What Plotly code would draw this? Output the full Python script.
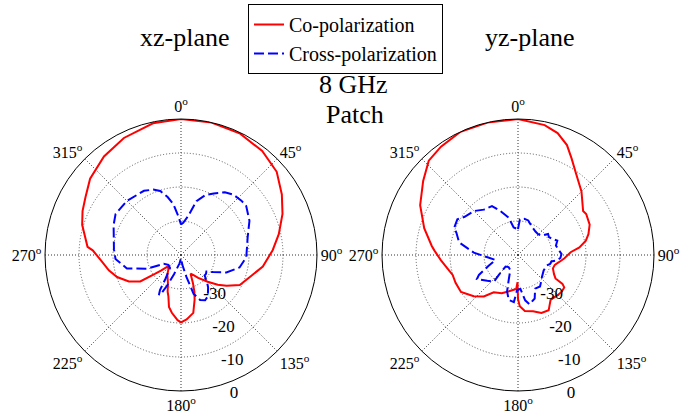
import plotly.graph_objects as go

# xz-plane, co-polarization (angle in degrees, normalized gain in dB)
xz_co_theta = [0, 13, 26, 38, 49, 59, 68, 78, 87, 98, 108, 117, 124, 129, 135, 143, 148, 153,
               157, 160, 163, 168, 175, 180, 183, 189, 193, 197, 200, 205, 215, 228, 232, 234,
               237, 243, 251, 258, 266.5, 273, 275, 287, 294, 301, 310, 322, 334, 348, 360]
xz_co_db = [0, 0, -0.3, -1.2, -2.7, -5.4, -7.8, -10.6, -13, -15.7, -18.8, -20.6, -23.8, -26.1,
            -28.9, -31.6, -33, -33.8, -31, -28.5, -26.3, -22.6, -21, -20.2, -20.8, -22.8, -24.3,
            -27.3, -28.5, -30.9, -33, -35.3, -32.5, -30.5, -25.7, -22.8, -20.1, -18.3, -16.3, -14,
            -12.4, -9.6, -8.3, -7.2, -5.1, -3.2, -1.7, -0.4, 0]

# xz-plane, cross-polarization
xz_cx_theta = [0, 4, 10.6, 16, 22, 28, 35, 41, 48, 53, 63.5, 75, 84, 92, 102, 111, 118, 123, 127,
               131, 136, 140, 147, 152, 157, 162, 166, 172, 180, 190, 200, 204, 207, 209, 211, 213,
               220, 232, 243, 248, 256, 266.5, 275, 282, 294, 302, 315, 330, 337, 342, 347, 351.5,
               356, 360]
xz_cx_db = [-31, -30.5, -28.3, -23.5, -21, -19.5, -17.5, -16.5, -16.1, -16, -17.5, -19.7, -20.5,
            -20.8, -22.4, -25.7, -29.3, -31.1, -30.8, -30.8, -29, -27.6, -25.5, -24.9, -25.6, -28,
            -33.3, -37, -39, -37.5, -34, -30.5, -27.5, -26.6, -28, -31.5, -35, -35.3, -34.3, -29.2,
            -23.6, -20.7, -20.2, -19.8, -18.3, -17.3, -17.5, -18.2, -19.1, -20.2, -22.5, -24.9,
            -28.5, -31]

# yz-plane, co-polarization
yz_co_theta = [0, 11.6, 18, 24, 29, 35, 45, 56, 59, 67, 73.5, 78, 83, 87, 94, 100, 105, 111, 118,
               122, 123, 125, 130, 135, 144, 151, 158, 165, 173, 178, 180, 181, 183, 187, 194, 203,
               213, 219.5, 227, 237, 246, 253, 259, 266, 273, 276, 286, 297, 308, 316.6, 324.6, 335,
               347, 360]
yz_co_db = [0, -1, -2.3, -4.6, -7.5, -10.4, -13.6, -16.9, -16.6, -17.1, -18.4, -19.6, -21.8, -24.5,
            -26.3, -27.8, -28.8, -29, -28, -27, -24.4, -23.4, -23.2, -23.4, -23.7, -21.4, -21.6,
            -22.9, -23.4, -24.9, -27, -32, -30, -29.7, -29, -27.8, -26.9, -24.2, -22.2, -20, -19.9,
            -19.9, -18.9, -17.3, -15.4, -14.5, -11.3, -7.7, -4.6, -1.8, -0.9, 0, 0, 0]

# yz-plane, cross-polarization
yz_cx_theta = [0, 3, 10, 16.5, 25, 36.7, 44, 50.7, 55, 60, 65.6, 70, 76, 81.5, 88.7, 94, 98, 101,
               105.5, 110, 121, 133, 140, 145, 153, 159, 166.8, 171, 176, 181.6, 185, 191.6, 196.7,
               200.5, 207, 218, 227, 224, 222, 230, 239.6, 243, 250, 257.6, 265.7, 273, 282, 290,
               293, 300.5, 305.6, 315, 323, 332, 338, 346, 351, 360]
yz_cx_db = [-32.4, -29.5, -29.2, -29.4, -30.6, -31.4, -31.5, -31, -29.2, -29.5, -28.7, -27.7,
            -28.5, -28.1, -27.2, -27.5, -28.5, -30, -30.2, -31, -31.2, -30.4, -29.5, -28.7, -28.9,
            -26.3, -25.1, -26.5, -30, -29.6, -26.1, -26.5, -28.8, -32.2, -35, -35.5, -35, -31.9,
            -29.5, -28.2, -26, -27.1, -30.9, -33.2, -31, -27, -22.3, -20.7, -19.6, -19.3, -20.7,
            -21.7, -23.3, -23.7, -26, -28.7, -31.8, -32.4]

angle_ticks = [0, 45, 90, 135, 180, 225, 270, 315]
angle_labels = [f"{a}<sup>o</sup>" for a in angle_ticks]
ring_ticks = [-30, -20, -10, 0]
ring_labels = ["-30", "-20", "-10", "0"]

FONT = "Liberation Serif"
RED = "#ff0000"
BLUE = "#0000ff"

# geometry of each pattern (pixels): centre and outer radius at 0 dB
W, H = 694, 414
CY, R = 255, 136
CENTERS_X = [181, 518]
R_MIN, R_MAX = -40, 0
LABEL_PAD_DB = 1.8          # ring labels sit slightly outside their ring
R_LBL_MAX = R_MAX + 2.5     # label layer extends a bit beyond the outer ring
LABEL_ANGLE = -75           # direction of the ring-label column


def domain(cx, radius):
    return dict(x=[(cx - radius) / W, (cx + radius) / W],
                y=[1 - (CY + radius) / H, 1 - (CY - radius) / H])


def pattern_polar(cx):
    return dict(
        domain=domain(cx, R),
        bgcolor="white",
        angularaxis=dict(
            rotation=90, direction="clockwise",
            tickmode="array", tickvals=angle_ticks, ticktext=angle_labels,
            showline=True, linecolor="black", linewidth=1,
            showgrid=True, gridcolor="#333333", griddash="1px,2px", gridwidth=1,
            ticks="", ticklen=0, tickfont=dict(family=FONT, size=16, color="black"),
        ),
        radialaxis=dict(
            range=[R_MIN, R_MAX], tickmode="array", tickvals=ring_ticks,
            showticklabels=False, showline=False, ticks="",
            showgrid=True, gridcolor="#555555", griddash="1px,2px", gridwidth=1,
        ),
    )


def label_polar(cx):
    # same centre and dB-per-pixel scale as the pattern, used for the ring labels
    radius = R * (R_LBL_MAX - R_MIN) / (R_MAX - R_MIN)
    return dict(
        domain=domain(cx, radius),
        bgcolor="rgba(0,0,0,0)",
        angularaxis=dict(rotation=90, direction="clockwise", visible=False,
                         showgrid=False, showline=False, showticklabels=False),
        radialaxis=dict(
            range=[R_MIN, R_LBL_MAX], tickmode="array",
            tickvals=[v + LABEL_PAD_DB for v in ring_ticks], ticktext=ring_labels,
            side="counterclockwise", angle=LABEL_ANGLE, tickangle=LABEL_ANGLE,
            showline=False, showgrid=False, ticks="",
            tickfont=dict(family=FONT, size=17, color="black"),
        ),
    )


fig = go.Figure()

planes = [(xz_co_theta, xz_co_db, xz_cx_theta, xz_cx_db),
          (yz_co_theta, yz_co_db, yz_cx_theta, yz_cx_db)]
for i, (co_t, co_r, cx_t, cx_r) in enumerate(planes):
    pat = "polar" if i == 0 else "polar2"
    lbl = "polar3" if i == 0 else "polar4"
    fig.add_trace(go.Scatterpolar(
        r=co_r, theta=co_t, mode="lines", subplot=pat,
        name="Co-polarization", showlegend=(i == 0),
        line=dict(color=RED, width=2)))
    fig.add_trace(go.Scatterpolar(
        r=cx_r, theta=cx_t, mode="lines", subplot=lbl,
        name="Cross-polarization", showlegend=(i == 0),
        line=dict(color=BLUE, width=2, dash="10px,4px")))

fig.update_layout(
    width=W, height=H,
    margin=dict(l=0, r=0, t=0, b=0),
    paper_bgcolor="white",
    font=dict(family=FONT, color="black"),
    polar=pattern_polar(CENTERS_X[0]),
    polar2=pattern_polar(CENTERS_X[1]),
    polar3=label_polar(CENTERS_X[0]),
    polar4=label_polar(CENTERS_X[1]),
    legend=dict(
        x=248 / W, y=1 - 4 / H, xanchor="left", yanchor="top",
        bordercolor="black", borderwidth=1, bgcolor="white",
        font=dict(family=FONT, size=20, color="black"),
        tracegroupgap=0,
    ),
    annotations=[
        dict(text=t, x=x / W, y=1 - y / H, xref="paper", yref="paper",
             xanchor="center", yanchor="middle", showarrow=False,
             font=dict(family=FONT, size=26, color="black"))
        for t, x, y in [("xz-plane", 185, 38), ("yz-plane", 530, 38),
                        ("8 GHz", 354, 84), ("Patch", 355, 114)]
    ],
)

fig.write_html("out.html")
